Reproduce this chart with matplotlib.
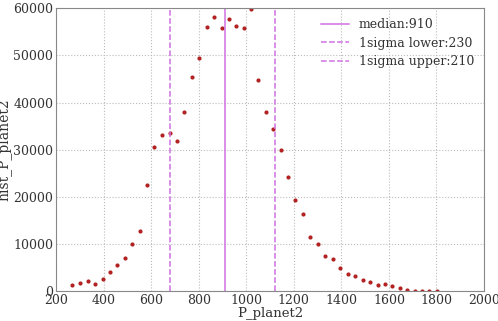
import matplotlib
matplotlib.use("Agg")
import matplotlib.pyplot as plt

plt.rcParams['font.family'] = ['DejaVu Serif']

# histogram bin centers and counts
p_planet2 = [268, 302, 333, 364, 396, 427, 458, 489, 520, 552,
             582, 614, 646, 678, 707, 738, 770, 802, 833, 864,
             896, 928, 958, 989, 1020, 1050, 1082, 1114, 1145, 1177,
             1207, 1239, 1270, 1302, 1333, 1365, 1396, 1427, 1458, 1489,
             1521, 1552, 1583, 1614, 1646, 1678, 1708, 1739, 1769, 1801]
hist_p_planet2 = [1450, 1800, 2200, 1650, 2650, 4130, 5550, 7030, 10130, 12820,
                  22500, 30560, 33100, 33520, 31950, 38040, 45300, 49330, 55980, 58020,
                  55690, 57590, 56260, 55770, 59800, 44670, 37970, 34370, 29920, 24330,
                  19320, 16360, 11550, 10000, 7460, 6950, 4920, 3710, 3280, 2500,
                  2010, 1440, 1590, 1170, 680, 380, 170, 40, 0, 0]

median = 910
sigma_lower = 230
sigma_upper = 210

fig = plt.figure(figsize=(4.98, 3.21), dpi=100)
ax = fig.add_axes([0.1125, 0.092, 0.8595, 0.883])

ax.plot(p_planet2, hist_p_planet2, 'o', color='#b22222', markersize=3,
        markeredgewidth=0)
ax.axvline(median, color='#d070e0', lw=1.1, label='median:%d' % median)
ax.axvline(median - sigma_lower, color='#d070e0', lw=1.1, ls='--',
           label='1sigma lower:%d' % sigma_lower)
ax.axvline(median + sigma_upper, color='#d070e0', lw=1.1, ls='--',
           label='1sigma upper:%d' % sigma_upper)

ax.set_xlim(200, 2000)
ax.set_ylim(0, 60000)
ax.set_xticks(range(200, 2001, 200))
ax.set_yticks(range(0, 60001, 10000))
ax.tick_params(length=0, labelsize=9, colors='#333333', pad=2)
ax.grid(True, ls=':', color='#bbbbbb', lw=0.8)
for s in ax.spines.values():
    s.set_color('#888888')

ax.set_xlabel('P_planet2', fontsize=9.5, color='#333333', labelpad=0)
ax.set_ylabel('hist_P_planet2', fontsize=10, color='#333333', labelpad=1)

leg = ax.legend(loc='upper right', frameon=False, fontsize=9,
                handlelength=2.2, handletextpad=0.8, labelspacing=0.45,
                borderaxespad=0.4)
for t in leg.get_texts():
    t.set_color('#333333')

fig.savefig('out.png', dpi=100)
